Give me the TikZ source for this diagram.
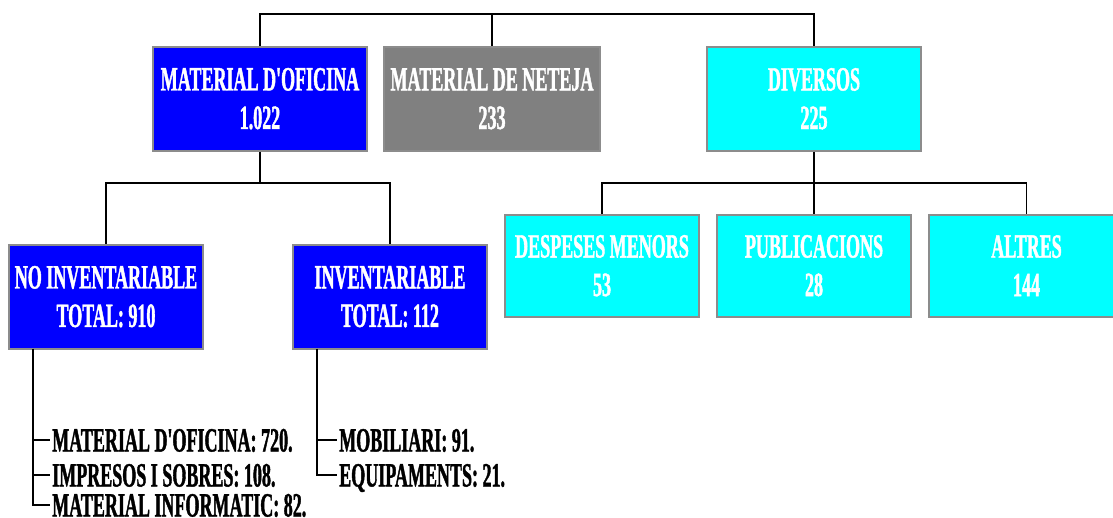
\documentclass[tikz,border=0pt]{standalone}
\usepackage{fontspec}
\newfontfamily\orgfont{Liberation Serif}[FakeStretch=0.53, FakeBold=1.2]
\definecolor{boxblue}{HTML}{0000FF}
\definecolor{boxgray}{HTML}{808080}
\definecolor{boxcyan}{HTML}{00FFFF}
\definecolor{boxedge}{HTML}{8C8C8C}
\tikzset{
  orgbox/.style={draw=boxedge, line width=1.6pt, rectangle, inner sep=0pt,
    text=white, align=center,
    font=\orgfont\bfseries\fontsize{34}{38.5}\selectfont},
  wide/.style={minimum width=214pt, minimum height=104pt},
  narrow/.style={minimum width=194.5pt, minimum height=102pt},
  link/.style={draw=black, line width=1.8pt},
  item/.style={anchor=west, inner xsep=2pt, inner ysep=0pt, text=black,
    text height=23pt, text depth=0pt,
    font=\orgfont\bfseries\fontsize{34}{38.5}\selectfont},
}
\begin{document}
\begin{tikzpicture}[x=1pt, y=-1pt]
\useasboundingbox (0,0) rectangle (1113,517);
\clip (0,0) rectangle (1113,517);

% first level
\node[orgbox, wide, fill=boxblue] (ofi) at (260,98.7) {MATERIAL D'OFICINA\\1.022};
\node[orgbox, wide, minimum width=216pt, fill=boxgray] (net) at (492,98.7) {MATERIAL DE NETEJA\\233};
\node[orgbox, wide, fill=boxcyan] (div) at (814,98.7) {DIVERSOS\\225};

% second level under office material
\node[orgbox, minimum width=194pt, minimum height=104pt, fill=boxblue] (noinv) at (106,296.7) {NO INVENTARIABLE\\TOTAL: 910};
\node[orgbox, minimum width=194pt, minimum height=104pt, fill=boxblue] (inv) at (390,296.7) {INVENTARIABLE\\TOTAL: 112};

% second level under miscellaneous
\node[orgbox, narrow, fill=boxcyan] (desp) at (602,265.7) {DESPESES MENORS\\53};
\node[orgbox, narrow, fill=boxcyan] (publ) at (814,265.7) {PUBLICACIONS\\28};
\node[orgbox, narrow, fill=boxcyan] (altr) at (1026.5,265.7) {ALTRES\\144};

% detail lists
\node[item] (m1) at (50,440) {MATERIAL D'OFICINA: 720.};
\node[item] (m2) at (50,475) {IMPRESOS I SOBRES: 108.};
\node[item] (m3) at (50,505) {MATERIAL INFORMATIC: 82.};
\node[item] (e1) at (337,440) {MOBILIARI: 91.};
\node[item] (e2) at (337,475) {EQUIPAMENTS: 21.};

% connectors
\coordinate (topbar) at (0,14);
\coordinate (midbar) at (0,183);
\coordinate (lt) at (33,348.7);
\coordinate (rt) at (317,348.7);

\draw[link] (ofi.north) -- (ofi.north |- topbar) -- (div.north |- topbar) -- (div.north);
\draw[link] (net.north) -- (net.north |- topbar);

\draw[link] (ofi.south) -- (ofi.south |- midbar);
\draw[link] (noinv.north) -- (noinv.north |- midbar) -- (inv.north |- midbar) -- (inv.north);

\draw[link] (div.south) -- (publ.north);
\draw[link] (desp.north) -- (desp.north |- midbar) -- (altr.north |- midbar) -- (altr.north);

\draw[link] (lt) |- (m3.west);
\draw[link] (lt |- m1.west) -- (m1.west);
\draw[link] (lt |- m2.west) -- (m2.west);

\draw[link] (rt) |- (e2.west);
\draw[link] (rt |- e1.west) -- (e1.west);
\end{tikzpicture}
\end{document}
